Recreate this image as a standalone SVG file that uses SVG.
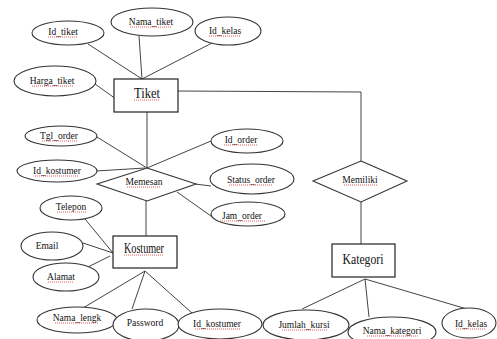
<svg xmlns="http://www.w3.org/2000/svg" width="497" height="339" viewBox="0 0 497 339">
<style>
.ent{fill:#fff;stroke:#222;stroke-width:1.2}
.att{fill:#fff;stroke:#333;stroke-width:1.1}
.rel{fill:#fff;stroke:#333;stroke-width:1.1}
.ln{stroke:#444;stroke-width:1;fill:none}
.t{font-family:'Liberation Serif','Times New Roman','DejaVu Serif',serif;font-size:9.5px;fill:#111;text-anchor:middle;dominant-baseline:central}
.te{font-family:'Liberation Serif','Times New Roman','DejaVu Serif',serif;font-size:14px;fill:#111;text-anchor:middle;dominant-baseline:central}
.sq{stroke:#e03030;stroke-width:0.8;stroke-dasharray:1 1;fill:none}
</style>
<rect width="497" height="339" fill="#fff"/>
<g id="connectors">
<line class="ln" x1="88" y1="44" x2="142" y2="79"/>
<line class="ln" x1="139" y1="36" x2="142" y2="79"/>
<line class="ln" x1="212" y1="43" x2="142" y2="79"/>
<line class="ln" x1="95" y1="84" x2="116" y2="99"/>
<polyline class="ln" points="177,91 361,92 361,161"/>
<line class="ln" x1="147" y1="112" x2="147" y2="168"/>
<line class="ln" x1="97" y1="137" x2="147" y2="168"/>
<line class="ln" x1="211" y1="141" x2="147" y2="168"/>
<line class="ln" x1="96" y1="171" x2="145" y2="168"/>
<line class="ln" x1="195" y1="184" x2="211" y2="186"/>
<line class="ln" x1="177" y1="192" x2="211" y2="216"/>
<line class="ln" x1="146" y1="201" x2="146" y2="236"/>
<line class="ln" x1="85" y1="219" x2="113" y2="253"/>
<line class="ln" x1="83" y1="243" x2="113" y2="253"/>
<line class="ln" x1="88" y1="267" x2="110" y2="256"/>
<line class="ln" x1="145" y1="271" x2="83" y2="308"/>
<line class="ln" x1="145" y1="271" x2="132" y2="309"/>
<line class="ln" x1="145" y1="271" x2="192" y2="313"/>
<line class="ln" x1="361" y1="202" x2="361" y2="244"/>
<line class="ln" x1="365" y1="279" x2="302" y2="309"/>
<line class="ln" x1="365" y1="279" x2="369" y2="317"/>
<line class="ln" x1="365" y1="279" x2="467" y2="309"/>
</g>
<g id="tiket"><rect class="ent" x="114" y="79" width="64" height="33"/><text class="te" x="147" y="93" textLength="26" lengthAdjust="spacingAndGlyphs">Tiket</text></g>
<g id="id_tiket"><ellipse class="att" cx="68" cy="33" rx="36" ry="12"/><text class="t" x="63" y="32">Id_tiket</text></g>
<g id="nama_tiket"><ellipse class="att" cx="152" cy="22" rx="41" ry="14"/><text class="t" x="151" y="22">Nama_tiket</text></g>
<g id="id_kelas"><ellipse class="att" cx="228" cy="31" rx="33" ry="14"/><text class="t" x="225" y="31">Id_kelas</text></g>
<g id="harga_tiket"><ellipse class="att" cx="55" cy="81" rx="41" ry="15"/><text class="t" x="52" y="81">Harga_tiket</text></g>
<g id="memesan"><polygon class="rel" points="147,168 196,184 147,201 97,184"/><text class="t" x="144" y="182">Memesan</text></g>
<g id="tgl_order"><ellipse class="att" cx="61" cy="136" rx="36" ry="10"/><text class="t" x="59" y="136">Tgl_order</text></g>
<g id="id_order"><ellipse class="att" cx="247" cy="141" rx="36" ry="12"/><text class="t" x="241" y="140">Id_order</text></g>
<g id="id_kostumer_m"><ellipse class="att" cx="57" cy="171" rx="40" ry="11"/><text class="t" x="57" y="171">Id_kostumer</text></g>
<g id="status_order"><ellipse class="att" cx="252" cy="179" rx="42" ry="15"/><text class="t" x="251" y="180">Status_order</text></g>
<g id="jam_order"><ellipse class="att" cx="248" cy="214" rx="37" ry="12"/><text class="t" x="242" y="216">Jam_order</text></g>
<g id="kostumer"><rect class="ent" x="113" y="236" width="64" height="32"/><text class="te" x="144" y="248" textLength="40" lengthAdjust="spacingAndGlyphs">Kostumer</text></g>
<g id="telepon"><ellipse class="att" cx="71" cy="208" rx="31" ry="12"/><text class="t" x="71" y="207">Telepon</text></g>
<g id="email"><ellipse class="att" cx="52" cy="246" rx="31" ry="14"/><text class="t" x="47" y="246">Email</text></g>
<g id="alamat"><ellipse class="att" cx="66" cy="277" rx="33" ry="14"/><text class="t" x="61" y="277">Alamat</text></g>
<g id="nama_lengk"><ellipse class="att" cx="77" cy="320" rx="40" ry="13"/><text class="t" x="77" y="318">Nama_lengk</text></g>
<g id="password"><ellipse class="att" cx="146" cy="325" rx="33" ry="16"/><text class="t" x="145" y="323">Password</text></g>
<g id="id_kostumer_k"><ellipse class="att" cx="220" cy="324" rx="42" ry="15"/><text class="t" x="217" y="324">Id_kostumer</text></g>
<g id="memiliki"><polygon class="rel" points="361,161 407,181 361,202 313,181"/><text class="t" x="360" y="180">Memiliki</text></g>
<g id="kategori"><rect class="ent" x="332" y="244" width="63" height="33"/><text class="te" x="363" y="259" textLength="41" lengthAdjust="spacingAndGlyphs">Kategori</text></g>
<g id="jumlah_kursi"><ellipse class="att" cx="306" cy="325" rx="43" ry="15"/><text class="t" x="304" y="325">Jumlah_kursi</text></g>
<g id="nama_kategori"><ellipse class="att" cx="392" cy="332" rx="44" ry="15"/><text class="t" x="392" y="331">Nama_kategori</text></g>
<g id="id_kelas_k"><ellipse class="att" cx="469" cy="323" rx="27" ry="15"/><text class="t" x="471" y="324">Id_kelas</text></g>
<g id="spellcheck">
<line class="sq" x1="48" y1="37" x2="78" y2="37"/>
<line class="sq" x1="130" y1="27" x2="172" y2="27"/>
<line class="sq" x1="209" y1="36" x2="241" y2="36"/>
<line class="sq" x1="32" y1="86" x2="73" y2="86"/>
<line class="sq" x1="134" y1="100" x2="160" y2="100"/>
<line class="sq" x1="42" y1="141" x2="77" y2="141"/>
<line class="sq" x1="224" y1="145" x2="257" y2="145"/>
<line class="sq" x1="35" y1="176" x2="79" y2="176"/>
<line class="sq" x1="127" y1="187" x2="161" y2="187"/>
<line class="sq" x1="229" y1="185" x2="273" y2="185"/>
<line class="sq" x1="220" y1="221" x2="265" y2="221"/>
<line class="sq" x1="57" y1="212" x2="86" y2="212"/>
<line class="sq" x1="48" y1="282" x2="74" y2="282"/>
<line class="sq" x1="124" y1="255" x2="164" y2="255"/>
<line class="sq" x1="55" y1="323" x2="99" y2="323"/>
<line class="sq" x1="195" y1="329" x2="240" y2="329"/>
<line class="sq" x1="344" y1="185" x2="377" y2="185"/>
<line class="sq" x1="282" y1="330" x2="327" y2="330"/>
<line class="sq" x1="367" y1="336" x2="418" y2="336"/>
<line class="sq" x1="456" y1="329" x2="486" y2="329"/>
</g>
</svg>
